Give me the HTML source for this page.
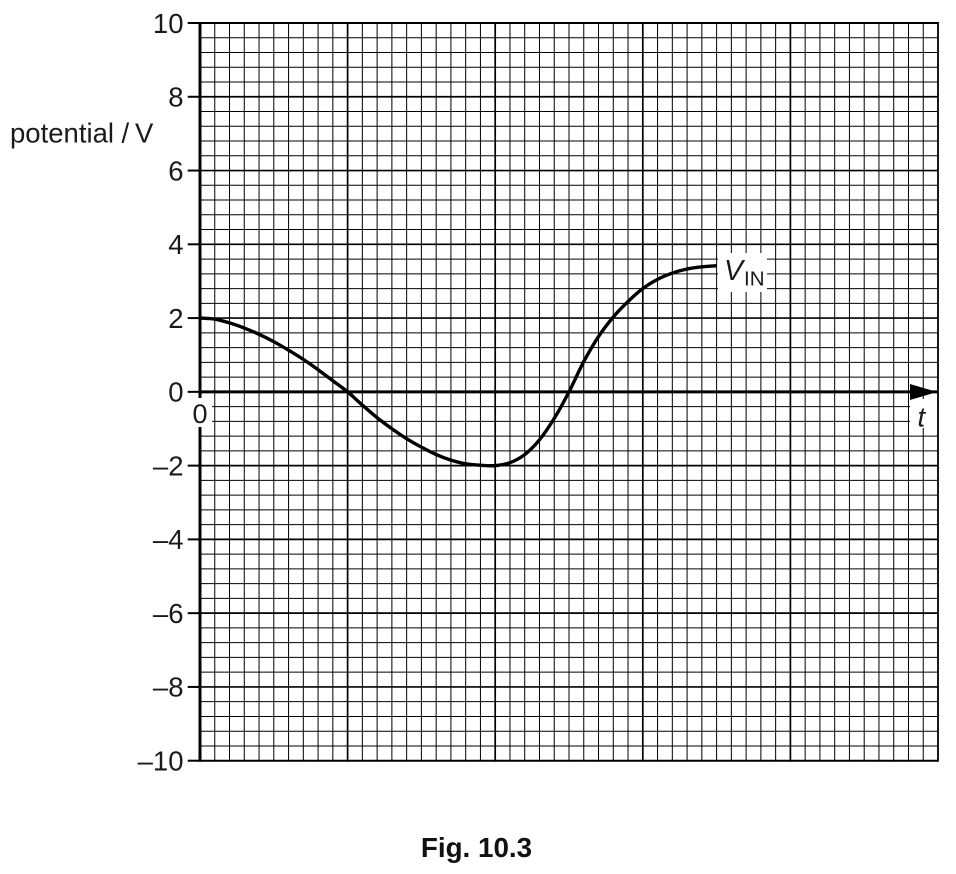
<!DOCTYPE html>
<html>
<head>
<meta charset="utf-8">
<style>
html,body{margin:0;padding:0;background:#fff;width:956px;height:874px;overflow:hidden}
svg{display:block}
text{font-family:"Liberation Sans",sans-serif;fill:#1a1a1a}
</style>
</head>
<body>
<svg id="chart" width="956" height="874" viewBox="0 0 956 874" xmlns="http://www.w3.org/2000/svg">
  <rect width="956" height="874" fill="#fff"/>
  <g id="grid"></g>
  <g id="ticks"></g>
  <g id="labels"></g>
  <path id="curve" fill="none" stroke="#000" stroke-width="3.4" stroke-linecap="butt" stroke-linejoin="round"/>
  <rect x="192" y="398" width="20" height="29" fill="#fff"/>
  <rect x="718" y="253" width="49" height="39" fill="#fff"/>
  <rect x="910" y="399" width="27" height="29" fill="#fff"/>
  <polygon points="910,384 937,392 910,400" fill="#000"/>
  <text x="200" y="423" font-size="27" text-anchor="middle">0</text>
  <text y="142.5" font-size="27.5"><tspan x="10">potential</tspan><tspan x="121.5">/</tspan><tspan x="135">V</tspan></text>
  <text x="724" y="280" font-size="28.5" font-style="italic">V</text>
  <text x="744" y="285.5" font-size="20.5">IN</text>
  <text x="917.5" y="426.5" font-size="27.5" font-style="italic">t</text>
  <text x="476.5" y="857" font-size="27.8" font-weight="bold" text-anchor="middle" style="fill:#111">Fig. 10.3</text>
</svg>
<script>
const yTickValues = [10, 8, 6, 4, 2, 0, -2, -4, -6, -8, -10];
const yTickLabels = ['10', '8', '6', '4', '2', '0', '–2', '–4', '–6', '–8', '–10'];
const timeValues = [0, 1, 2, 3, 4, 5, 6, 7, 8, 9, 10, 11, 12, 13, 14, 15, 16, 17, 18, 19, 20, 21, 22, 23, 24, 25, 26, 27, 28, 29, 30, 31, 32, 33, 34, 35];
const potentialValues = [2, 1.97, 1.87, 1.73, 1.56, 1.36, 1.13, 0.88, 0.6, 0.3, 0, -0.36, -0.7, -1.0, -1.27, -1.5, -1.7, -1.85, -1.95, -1.99, -2.0, -1.92, -1.7, -1.3, -0.72, 0, 0.82, 1.5, 2.03, 2.45, 2.8, 3.05, 3.22, 3.33, 3.39, 3.42];

const NS = 'http://www.w3.org/2000/svg';
const plotLeft = 200, plotRight = 938, plotTop = 23, plotBottom = 760.7;
const timeMax = 50, vMax = 10, vMin = -10;
function xScale(t) { return plotLeft + (plotRight - plotLeft) * t / timeMax; }
function yScale(v) { return plotTop + (plotBottom - plotTop) * (vMax - v) / (vMax - vMin); }

const gridGroup = document.getElementById('grid');
function gridLine(x1, y1, x2, y2, width) {
  const l = document.createElementNS(NS, 'line');
  
  
  l.setAttribute('x1', x1);
  l.setAttribute('y1', y1);
  l.setAttribute('x2', x2);
  l.setAttribute('y2', y2);
  l.setAttribute('stroke', '#000');
  l.setAttribute('stroke-width', width);
  gridGroup.appendChild(l);
}
for (let i = 0; i <= timeMax; i++) {
  const w = i === 0 ? 3 : (i === timeMax ? 1.8 : (i % 10 === 0 ? 1.7 : 1));
  gridLine(xScale(i), plotTop - 1, xScale(i), plotBottom + 1, w);
}
for (let i = 0; i <= 50; i++) {
  const v = vMax - i * 0.4;
  const w = i === 25 ? 3 : (i === 0 || i === 50 ? 2 : (i % 5 === 0 ? 1.7 : 1));
  gridLine(plotLeft, yScale(v), plotRight, yScale(v), w);
}

const tickGroup = document.getElementById('ticks');
const labelGroup = document.getElementById('labels');
yTickValues.forEach(function (v, i) {
  const t = document.createElementNS(NS, 'line');
  
  
  t.setAttribute('x1', 187.7);
  t.setAttribute('x2', plotLeft);
  t.setAttribute('y1', yScale(v));
  t.setAttribute('y2', yScale(v));
  t.setAttribute('stroke', '#000');
  t.setAttribute('stroke-width', 2);
  tickGroup.appendChild(t);
  const s = document.createElementNS(NS, 'text');
  
  
  s.setAttribute('x', 183.5);
  s.setAttribute('y', yScale(v) + 9.8);
  s.setAttribute('font-size', 27.5);
  s.setAttribute('text-anchor', 'end');
  s.textContent = yTickLabels[i];
  labelGroup.appendChild(s);
});

const pts = timeValues.map(function (t, i) { return [xScale(t), yScale(potentialValues[i])]; });
let d = 'M' + pts[0][0].toFixed(2) + ' ' + pts[0][1].toFixed(2);
for (let i = 0; i < pts.length - 1; i++) {
  const p0 = pts[Math.max(0, i - 1)], p1 = pts[i], p2 = pts[i + 1], p3 = pts[Math.min(pts.length - 1, i + 2)];
  const c1x = p1[0] + (p2[0] - p0[0]) / 6, c1y = p1[1] + (p2[1] - p0[1]) / 6;
  const c2x = p2[0] - (p3[0] - p1[0]) / 6, c2y = p2[1] - (p3[1] - p1[1]) / 6;
  d += ' C' + c1x.toFixed(2) + ' ' + c1y.toFixed(2) + ' ' + c2x.toFixed(2) + ' ' + c2y.toFixed(2) + ' ' + p2[0].toFixed(2) + ' ' + p2[1].toFixed(2);
}
document.getElementById('curve').setAttribute('d', d);
</script>
</body>
</html>
